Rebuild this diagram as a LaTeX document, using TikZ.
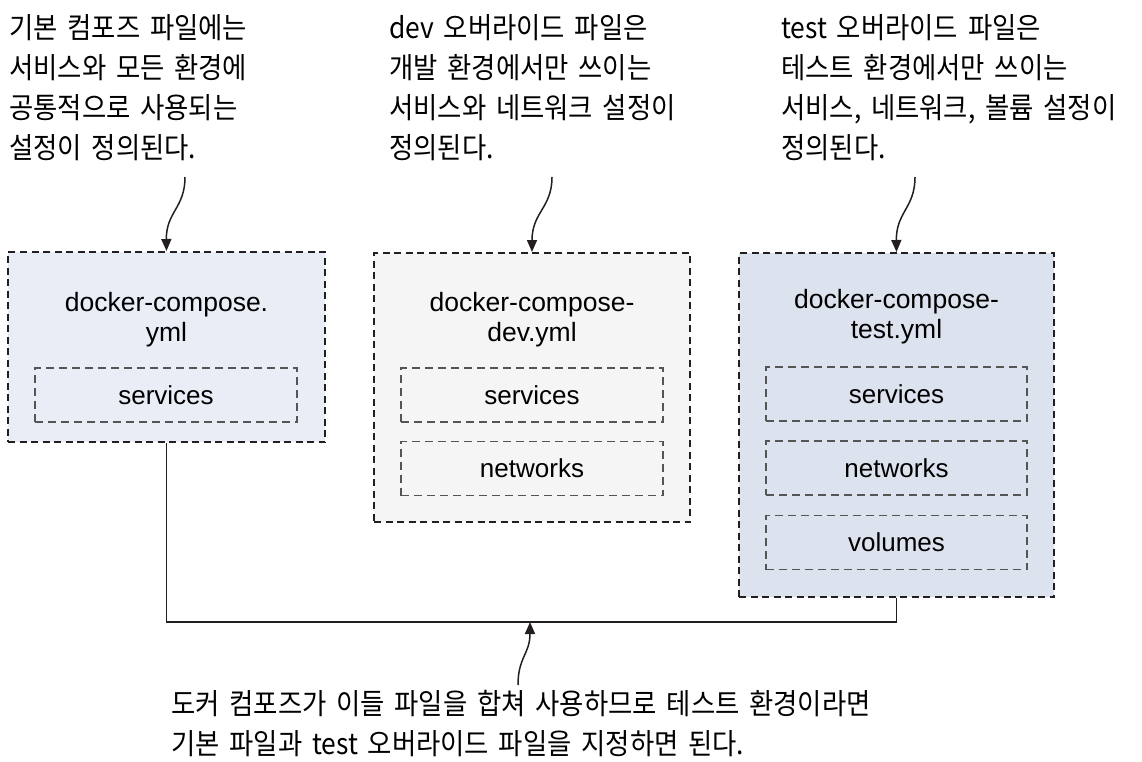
\documentclass[tikz,border=0pt]{standalone}
\usepackage{fontspec}
\setmainfont{Liberation Sans}
\newfontfamily\kr[FakeStretch=0.91,WordSpace=1.65]{Noto Sans CJK KR}
\usetikzlibrary{arrows.meta}
\definecolor{fillA}{HTML}{E9EEF6}
\definecolor{fillB}{HTML}{F5F5F5}
\definecolor{fillC}{HTML}{DCE3EE}
\definecolor{edgeO}{HTML}{231F20}
\definecolor{edgeI}{HTML}{555555}
\tikzset{
  outerbox/.style={draw=edgeO, line width=2pt, dash pattern=on 7pt off 4.5pt, inner sep=0pt},
  innerbox/.style={draw=edgeI, line width=1.6pt, dash pattern=on 8pt off 5pt, inner sep=0pt,
    minimum height=54pt, font=\fontsize{26}{30}\selectfont},
  title/.style={align=center, font=\fontsize{26.5}{30}\selectfont, inner sep=0pt},
  note/.style={align=left, anchor=north west, inner sep=0pt, font=\kr\fontsize{29}{40}\selectfont},
  link/.style={draw=edgeO, line width=1.5pt},
  tip/.style={-{Triangle[width=10pt,length=12pt]}}
}
\begin{document}
\begin{tikzpicture}[x=1pt,y=-1pt]
\path[use as bounding box] (0,0) rectangle (1142,762);

% notes
\node[note] (n1) at (9,14) {기본 컴포즈 파일에는\\서비스와 모든 환경에\\공통적으로 사용되는\\설정이 정의된다.};
\node[note] (n2) at (389,14) {dev 오버라이드 파일은\\개발 환경에서만 쓰이는\\서비스와 네트워크 설정이\\정의된다.};
\node[note] (n3) at (781,14) {test 오버라이드 파일은\\테스트 환경에서만 쓰이는\\서비스, 네트워크, 볼륨 설정이\\정의된다.};
\node[note] (n4) at (171,690) {도커 컴포즈가 이들 파일을 합쳐 사용하므로 테스트 환경이라면\\기본 파일과 test 오버라이드 파일을 지정하면 된다.};

% outer boxes
\node[outerbox, fill=fillA, minimum width=317pt, minimum height=190pt] (box1) at (166.5,347) {};
\node[outerbox, fill=fillB, minimum width=316pt, minimum height=269pt] (box2) at (532,387.5) {};
\node[outerbox, fill=fillC, minimum width=315pt, minimum height=344pt] (box3) at (896.5,425) {};

% titles
\node[title] (t1) at (166.5,320) {docker-compose.\\yml};
\node[title] (t2) at (532,320) {docker-compose-\\dev.yml};
\node[title] (t3) at (896.5,317) {docker-compose-\\test.yml};

% inner boxes
\node[innerbox, minimum width=262pt] (s1) at (166,395) {services};
\node[innerbox, minimum width=262pt] (s2) at (532,395) {services};
\node[innerbox, minimum width=262pt] (w2) at (532,468.5) {networks};
\node[innerbox, minimum width=261pt] (s3) at (896.5,394) {services};
\node[innerbox, minimum width=261pt] (w3) at (896.5,468) {networks};
\node[innerbox, minimum width=261pt] (v3) at (896.5,542.5) {volumes};

% annotation arrows
\coordinate (a1) at (185,177);
\coordinate (a2) at (552,177);
\coordinate (a3) at (915,177);
\draw[link,tip] (a1) .. controls (185,208) and (166,212) .. (box1.north);
\draw[link,tip] (a2) .. controls (552,208) and (532,212) .. (box2.north);
\draw[link,tip] (a3) .. controls (915,208) and (896,212) .. (box3.north);

% merge connector
\coordinate (m) at (530,622);
\draw[link] (box1.south) |- (m) -| (box3.south);
\coordinate (b) at (518,685);
\draw[link,tip] (b) .. controls (518,657) and (530,654) .. (m);
\end{tikzpicture}
\end{document}
